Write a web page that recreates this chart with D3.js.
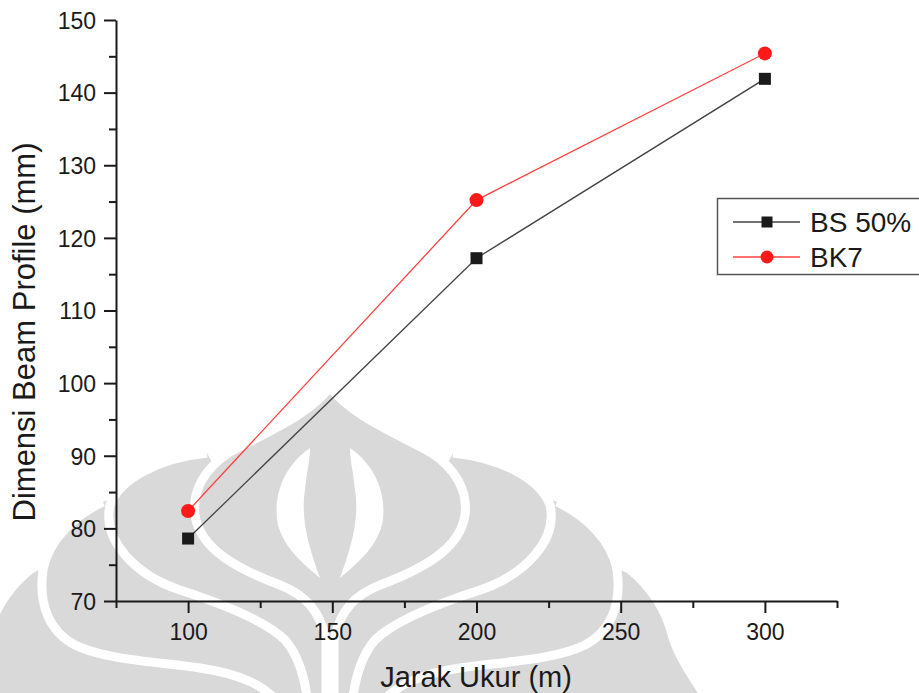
<!DOCTYPE html>
<html>
<head>
<meta charset="utf-8">
<script src="https://cdn.jsdelivr.net/npm/d3@7/dist/d3.min.js"></script>
<style>
  html, body { margin: 0; padding: 0; background: #fff; }
  svg { display: block; }
  text { font-family: "Liberation Sans", Arial, Helvetica, sans-serif; fill: #1a1a1a; }
</style>
</head>
<body>
<svg id="chart" width="919" height="693"></svg>
<script>
// Measured distances (m) and beam profile size (mm)
const distances = [100, 200, 300];
const bs50 = [78.6, 117.2, 141.9];
const bk7 = [82.4, 125.2, 145.4];
const seriesNames = ["BS 50%", "BK7"];
const xMajorTicks = [100, 150, 200, 250, 300];
const xMinorTicks = [75, 125, 175, 225, 275, 325];
const yMajorTicks = [70, 80, 90, 100, 110, 120, 130, 140, 150];
const yMinorTicks = [75, 85, 95, 105, 115, 125, 135, 145];

const svg = d3.select("#chart");

const x = d3.scaleLinear().domain([75, 325]).range([116, 837]);
const y = d3.scaleLinear().domain([70, 150]).range([601, 20]);

// ---- background emblem (light grey, symmetric about x = 330) ----
const wm = svg.append("g").attr("class", "emblem");
const grey = "#d9d9d9";
const mirror = "translate(660,0) scale(-1,1)";
const lobeC = {
  fill: "M627,573 C648,590 662,612 668,637 C675,660 690,680 702,700 L330,700 L330,560 L600,560 Z",
  edge: null
};
const lobeB = {
  fill: "M557,502 C585,515 612,540 617,570 C622,605 610,632 585,645 C555,660 500,662 460,668 C420,674 395,685 380,700 L330,700 L330,480 L540,495 Z",
  edge: "M557,502 C585,515 612,540 617,570 C622,605 610,632 585,645 C555,660 500,662 460,668 C420,674 395,685 380,705"
};
const lobeA = {
  fill: "M453,453 C500,458 540,478 550,505 C558,540 525,575 480,590 C440,603 395,620 375,640 C362,655 355,675 352,700 L330,700 L330,470 L445,468 Z",
  edge: "M453,453 C500,458 540,478 550,505 C558,540 525,575 480,590 C440,603 395,620 375,640 C362,655 355,675 352,705"
};
const onion = "M330,387 C350,415 400,435 430,452 C455,468 468,490 465,515 C460,550 420,570 380,585 C355,595 340,610 334,640 L334,705 L326,705 L326,640 C320,610 305,595 280,585 C240,570 200,550 195,515 C192,490 205,468 230,452 C260,435 310,415 330,387 Z";
const leaf = "M310,448 C285,465 272,495 278,525 C285,550 305,565 320,578 C310,550 300,520 305,490 C307,470 310,460 310,448 Z";

[lobeC, lobeB, lobeA].forEach(l => {
  [null, mirror].forEach(t => {
    const g = wm.append("g").attr("transform", t);
    g.append("path").attr("d", l.fill).attr("fill", grey);
    if (l.edge) g.append("path").attr("d", l.edge).attr("fill", "none")
      .attr("stroke", "#fff").attr("stroke-width", 9);
  });
});
wm.append("path").attr("d", onion).attr("fill", grey).attr("stroke", "#fff").attr("stroke-width", 9);
[null, mirror].forEach(t => {
  wm.append("path").attr("transform", t).attr("d", leaf).attr("fill", "#fff");
});

// ---- axes ----
const axisColor = "#1a1a1a";
function styleAxis(g) {
  g.select(".domain").attr("stroke", axisColor).attr("stroke-width", 2);
  g.selectAll(".tick line").attr("stroke", axisColor).attr("stroke-width", 2);
}

const gx = svg.append("g").attr("transform", `translate(0,${y(70)})`);
gx.call(d3.axisBottom(x).tickValues(xMinorTicks).tickSize(7).tickFormat("").tickSizeOuter(0));
gx.call(g => g.selectAll(".tick text").remove());
const gxMajor = svg.append("g").attr("transform", `translate(0,${y(70)})`)
  .call(d3.axisBottom(x).tickValues(xMajorTicks).tickSize(12).tickSizeOuter(0).tickPadding(8));
gxMajor.select(".domain").remove();
styleAxis(gx); styleAxis(gxMajor);
gxMajor.selectAll(".tick text").attr("font-size", 23).attr("fill", axisColor)
  .attr("y", 39).attr("dy", 0);

const gy = svg.append("g").attr("transform", `translate(${x(75)},0)`);
gy.call(d3.axisLeft(y).tickValues(yMinorTicks).tickSize(7).tickFormat("").tickSizeOuter(0));
gy.call(g => g.selectAll(".tick text").remove());
const gyMajor = svg.append("g").attr("transform", `translate(${x(75)},0)`)
  .call(d3.axisLeft(y).tickValues(yMajorTicks).tickSize(12).tickSizeOuter(0).tickPadding(8));
gyMajor.select(".domain").remove();
styleAxis(gy); styleAxis(gyMajor);
gyMajor.selectAll(".tick text").attr("font-size", 23).attr("fill", axisColor).attr("dy", "0.36em");

// axis titles
svg.append("text").attr("x", 476).attr("y", 687).attr("text-anchor", "middle")
  .attr("font-size", 29).text("Jarak Ukur (m)");
svg.append("text").attr("transform", "translate(35,332) rotate(-90)")
  .attr("text-anchor", "middle").attr("font-size", 31).text("Dimensi Beam Profile (mm)");

// ---- series ----
const series = [
  { name: seriesNames[0], values: bs50, line: "#444", mark: "#1a1a1a", shape: "square" },
  { name: seriesNames[1], values: bk7, line: "#ff4040", mark: "#ff1a1a", shape: "circle" }
];
const line = d3.line().x(d => x(d[0])).y(d => y(d[1]));

function drawMarker(g, shape, color, cx, cy, size) {
  if (shape === "square") {
    g.append("rect").attr("x", cx - size / 2).attr("y", cy - size / 2)
      .attr("width", size).attr("height", size).attr("fill", color);
  } else {
    g.append("circle").attr("cx", cx).attr("cy", cy).attr("r", size / 2 + 1).attr("fill", color);
  }
}

series.forEach(s => {
  const pts = distances.map((d, i) => [d, s.values[i]]);
  svg.append("path").attr("d", line(pts)).attr("fill", "none")
    .attr("stroke", s.line).attr("stroke-width", 1.3);
  const g = svg.append("g");
  pts.forEach(p => drawMarker(g, s.shape, s.mark, x(p[0]), y(p[1]), 12));
});

// ---- legend ----
const lg = svg.append("g");
lg.append("rect").attr("x", 717.5).attr("y", 198.5).attr("width", 260).attr("height", 76)
  .attr("fill", "#fff").attr("stroke", "#555").attr("stroke-width", 1.5);
series.forEach((s, i) => {
  const ly = 222 + i * 35;
  lg.append("line").attr("x1", 733).attr("x2", 800).attr("y1", ly).attr("y2", ly)
    .attr("stroke", s.line).attr("stroke-width", 1.3);
  drawMarker(lg, s.shape, s.mark, 767, ly, 11);
  lg.append("text").attr("x", 810).attr("y", ly).attr("dy", "0.36em")
    .attr("font-size", 28).text(s.name);
});
</script>
</body>
</html>
